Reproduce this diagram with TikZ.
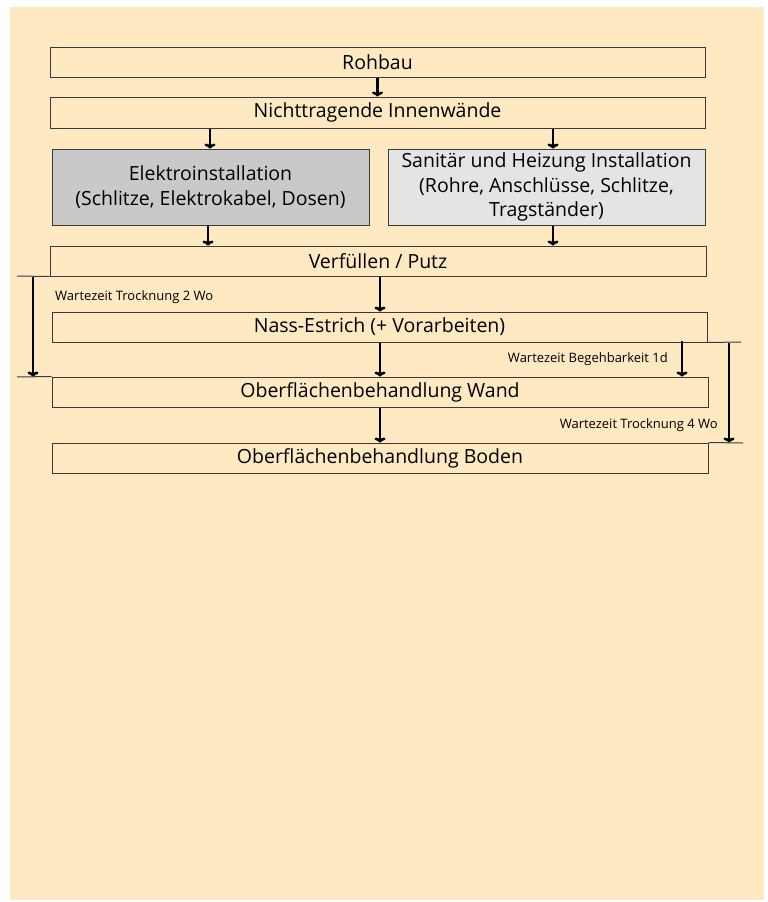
\documentclass[tikz,border=0pt]{standalone}
\usepackage{fontspec}
\setmainfont{Open Sans}
\usetikzlibrary{arrows.meta,calc}
\definecolor{bgbeige}{HTML}{FFE9C2}
\definecolor{boxline}{HTML}{3A3A3A}
\definecolor{grayA}{HTML}{C9C9C9}
\definecolor{grayB}{HTML}{E4E4E4}
\tikzset{
  stepbox/.style={draw=boxline,line width=1pt,inner sep=0pt,minimum height=30pt,
    font=\fontsize{19.5}{24.8}\selectfont,align=center},
  flowarr/.style={line width=2.6pt,-{To[length=5pt,width=11pt]}},
  tickline/.style={line width=1pt,draw=boxline},
  note/.style={font=\fontsize{13}{15}\selectfont,inner sep=0pt}
}
\begin{document}
\begin{tikzpicture}[x=1pt,y=-1pt]
\useasboundingbox (0,0) rectangle (768,902);
\fill[bgbeige] (10,7) rectangle (764,900);
\node[stepbox,minimum width=655pt] (roh) at (377.5,62) {Rohbau};
\node[stepbox,minimum width=655pt,minimum height=31pt] (nicht) at (377.5,112.5) {Nichttragende Innenwände};
\node[stepbox,fill=grayA,minimum width=317pt,minimum height=76pt] (elek) at (210.5,187) {Elektroinstallation\\(Schlitze, Elektrokabel, Dosen)};
\node[stepbox,fill=grayB,minimum width=317pt,minimum height=76pt] (sani) at (546.5,187) {Sanitär und Heizung Installation\\(Rohre, Anschlüsse, Schlitze,\\Tragständer)};
\node[stepbox,minimum width=656pt] (verf) at (378,261) {Verfüllen / Putz};
\node[stepbox,minimum width=655pt] (nass) at (379.5,327) {Nass-Estrich (+ Vorarbeiten)};
\node[stepbox,minimum width=656pt] (wand) at (380,392) {Oberflächenbehandlung Wand};
\node[stepbox,minimum width=656pt] (boden) at (380,458) {Oberflächenbehandlung Boden};
% coordinates for connector columns
\coordinate (cL) at (210,0);
\coordinate (cR) at (553,0);
\coordinate (cE) at (208,0);
\coordinate (cM) at (380,0);
\coordinate (cW) at (33,0);
\coordinate (cB) at (682,0);
\coordinate (cT) at (729,0);
\coordinate (lEnd1) at (17,276);
\coordinate (lEnd2) at (17,377);
\coordinate (rEnd1) at (741,342);
\coordinate (rEnd2) at (743,443);
% flow arrows
\draw[flowarr] (roh.south) -- (nicht.north);
\draw[flowarr] (nicht.south -| cL) -- (elek.north -| cL);
\draw[flowarr] (nicht.south -| cR) -- (sani.north -| cR);
\draw[flowarr] (elek.south -| cE) -- (verf.north -| cE);
\draw[flowarr] (sani.south -| cR) -- (verf.north -| cR);
\draw[flowarr] (verf.south -| cM) -- (nass.north -| cM);
\draw[flowarr] (nass.south -| cM) -- (wand.north -| cM);
\draw[flowarr] (wand.south -| cM) -- (boden.north -| cM);
% waiting times left
\draw[tickline] (lEnd1) -- (verf.south west);
\draw[tickline] (lEnd2) -- (wand.north west);
\draw[flowarr] (verf.south -| cW) -- (wand.north -| cW);
\node[note,anchor=west] (n1) at (55,297) {Wartezeit Trocknung 2 Wo};
% waiting times right
\draw[tickline] (nass.south east) -- (rEnd1);
\draw[tickline] (boden.north east) -- (rEnd2);
\draw[flowarr] (nass.south -| cT) -- (boden.north -| cT);
\draw[flowarr] ([yshift=2pt]nass.south -| cB) -- (wand.north -| cB);
\node[note,anchor=east] (n2) at (668,359) {Wartezeit Begehbarkeit 1d};
\node[note,anchor=east] (n3) at (718,425) {Wartezeit Trocknung 4 Wo};
\end{tikzpicture}
\end{document}
